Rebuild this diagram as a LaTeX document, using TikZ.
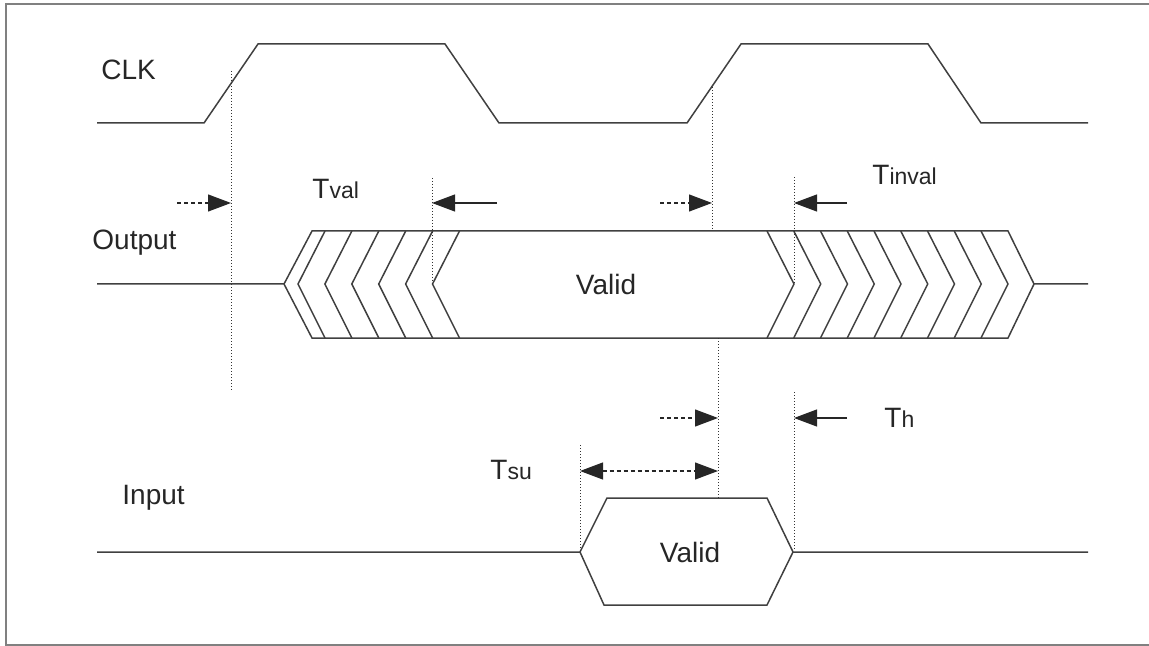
\documentclass[tikz,border=0pt]{standalone}
\usepackage{fontspec}
\setmainfont{Liberation Sans}
\usetikzlibrary{arrows.meta}

\tikzset{
    sig/.style={draw=black!75, line width=0.75pt, line join=miter},
    mark line/.style={draw=black!80, line width=0.5pt, densely dotted},
    big head/.style={-{Triangle[length=11.5pt, width=8.5pt]}},
    lead/.style={big head, draw=black!85, line width=0.6pt},
    lead dashed/.style={lead, dash pattern=on 2pt off 1.5pt},
    name label/.style={anchor=west, inner sep=0pt, text=black!85, font=\fontsize{14}{16}\selectfont},
    time label/.style={anchor=base west, inner sep=0pt, text=black!85, font=\fontsize{11.5}{13}\selectfont},
}
\newcommand{\bigT}{{\fontsize{14}{16}\selectfont T}}

\begin{document}
\begin{tikzpicture}[x=0.5pt, y=-0.5pt]
    \useasboundingbox (0,0) rectangle (1149,646);
    % frame (cut off on the right)
    \draw[gray, line width=1pt] (1149,4) -- (6,4) -- (6,645) -- (1149,645);

    % signal names
    \node[name label] (clk) at (101,70) {CLK};
    \node[name label] (out) at (92,243) {Output};
    \node[name label] (in) at (122,498) {Input};

    % clock
    \draw[sig] (97,123) -- (204,123) -- (258,44) -- (445,44) -- (499,123)
        -- (687,123) -- (741,44) -- (928,44) -- (981,123) -- (1088,123);

    % output bus
    \draw[sig] (97,284) -- (284,284) -- (312,231) -- (1008,231) -- (1034,284) -- (1088,284);
    \draw[sig] (284,284) -- (312,338) -- (1008,338) -- (1034,284);
    \foreach \k in {0, ..., 5}
        {
        \pgfmathsetmacro\ax{298 + 26.9*\k}
        \draw[sig] (\ax+27,231) -- (\ax,284) -- (\ax+27,338);
        }
    \foreach \k in {0, ..., 8}
        {
        \pgfmathsetmacro\ax{794 + 26.75*\k}
        \draw[sig] (\ax-27,231) -- (\ax,284) -- (\ax-27,338);
        }
    \node[name label, anchor=center] (outvalid) at (606,284) {Valid};

    % input bus
    \draw[sig] (97,552) -- (580,552) -- (607,498) -- (767,498) -- (793,552) -- (1088,552);
    \draw[sig] (580,552) -- (604,605) -- (767,605) -- (793,552);
    \node[name label, anchor=center] (invalid) at (690,552) {Valid};

    % timing marks
    \coordinate (clkA) at (231,71);
    \coordinate (clkB) at (712,87);
    \coordinate (valA) at (432,178);
    \coordinate (invA) at (794,177);
    \coordinate (holdA) at (794,392);
    \coordinate (suA) at (580,445);
    \draw[mark line] (clkA) -- (231,392);
    \draw[mark line] (clkB) -- (712,231);
    \draw[mark line] (718,338) -- (718,500);
    \draw[mark line] (valA) -- (432,284);
    \draw[mark line] (invA) -- (794,284);
    \draw[mark line] (holdA) -- (794,551);
    \draw[mark line] (suA) -- (580,552);

    % arrows
    \coordinate (a1) at (177,203);
    \coordinate (a2) at (231,203);
    \coordinate (a3) at (497,203);
    \coordinate (a4) at (432,203);
    \coordinate (a5) at (660,203);
    \coordinate (a6) at (712,203);
    \coordinate (a7) at (847,203);
    \coordinate (a8) at (794,203);
    \coordinate (b1) at (660,418);
    \coordinate (b2) at (718,418);
    \coordinate (b3) at (847,418);
    \coordinate (b4) at (794,418);
    \coordinate (c1) at (580,471);
    \coordinate (c2) at (718,471);
    \draw[lead dashed] (a1) -- (a2);
    \draw[lead] (a3) -- (a4);
    \draw[lead dashed] (a5) -- (a6);
    \draw[lead] (a7) -- (a8);
    \draw[lead dashed] (b1) -- (b2);
    \draw[lead] (b3) -- (b4);
    \draw[lead dashed, {Triangle[length=11.5pt, width=8.5pt]}-{Triangle[length=11.5pt, width=8.5pt]}] (c1) -- (c2);

    % timing names
    \node[time label] (tval) at (312,199) {\bigT val};
    \node[time label] (tinval) at (872,185) {\bigT inval};
    \node[time label] (th) at (884,427) {\bigT h};
    \node[time label] (tsu) at (490,479) {\bigT su};
\end{tikzpicture}
\end{document}
